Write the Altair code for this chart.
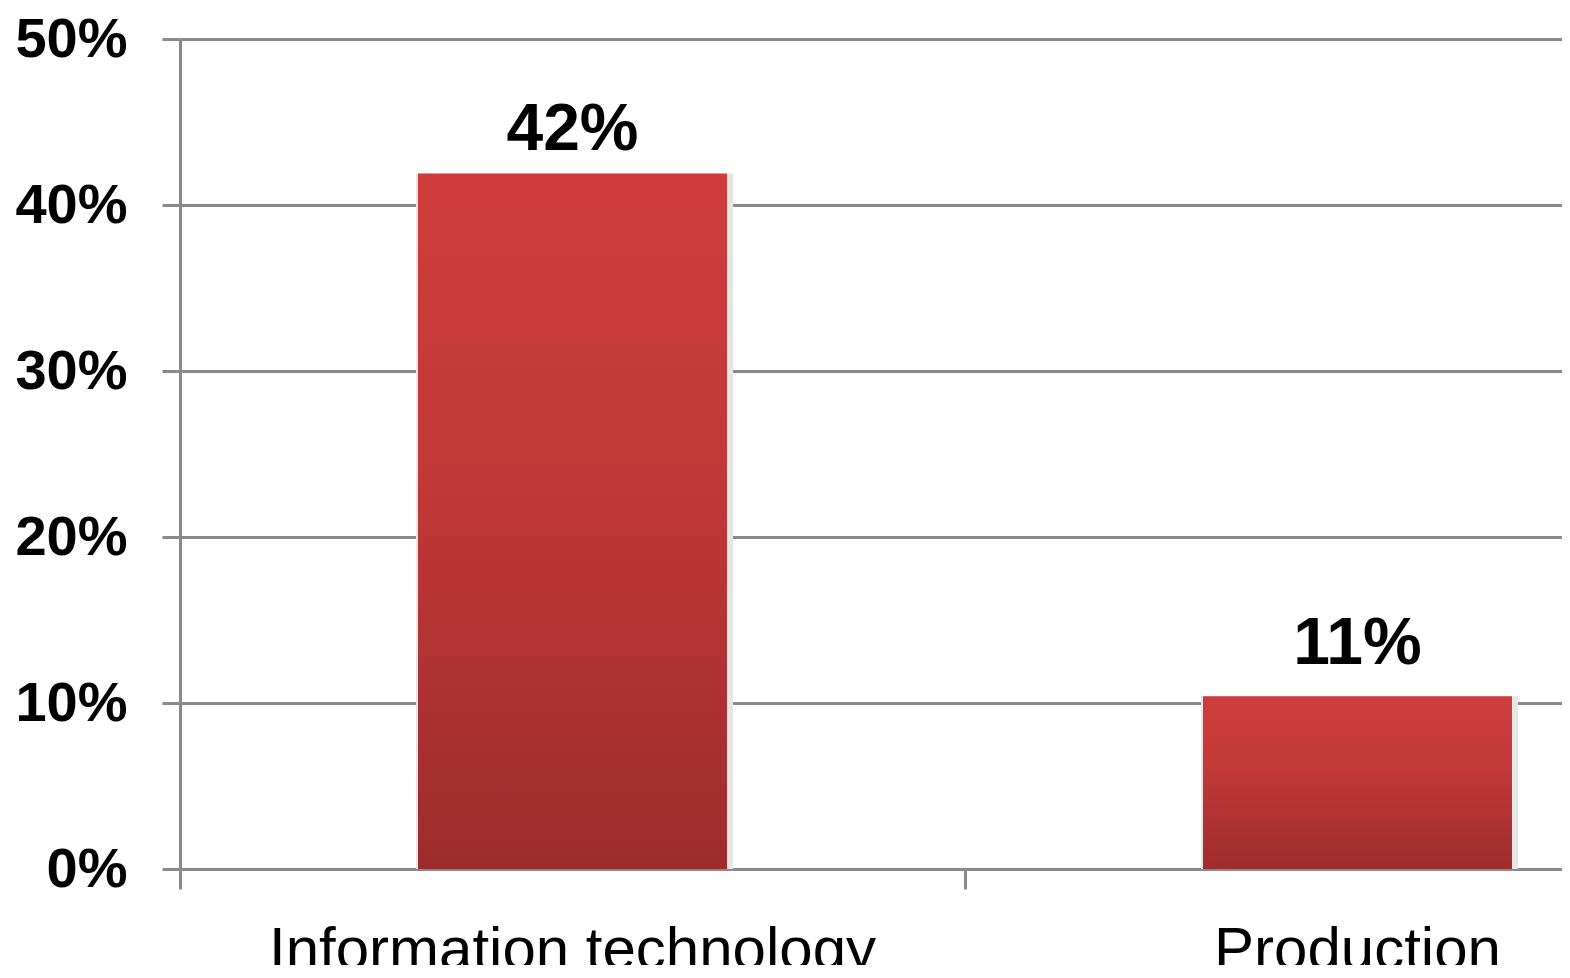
import altair as alt
import pandas as pd

categories = ["Information technology", "Production"]
values = [41.9, 10.4]
labels = ["42%", "11%"]
label_values = [42, 11]
y_ticks = [0, 10, 20, 30, 40, 50]

df = pd.DataFrame({
    "category": categories,
    "value": values,
    "label": labels,
    "label_value": label_values,
})

grey = "#8A8A8A"
font = "Liberation Sans"

x_scale = alt.Scale(domain=categories, range=[0, 1570], paddingInner=0, paddingOuter=0)

# axis that draws only the domain line and the ticks at the category boundaries
x_tick_axis = alt.Axis(
    orient="bottom",
    bandPosition=0,
    labels=False,
    tickSize=20,
    tickWidth=3,
    tickColor=grey,
    domainColor=grey,
    domainWidth=3,
    grid=False,
)

# axis that draws only the category names, centred under the bars
x_label_axis = alt.Axis(
    orient="bottom",
    domain=False,
    ticks=False,
    grid=False,
    labelAngle=0,
    labelFont=font,
    labelFontSize=60,
    labelColor="black",
    labelPadding=52,
    labelLimit=2000,
    labelFlush=False,
    labelOverlap=False,
)

y_scale = alt.Scale(domain=[0, 50], nice=False, zero=True)

y_enc = alt.Y(
    "value:Q",
    scale=y_scale,
    title=None,
    axis=alt.Axis(
        values=y_ticks,
        labelExpr="datum.value + '%'",
        labelFont=font,
        labelFontSize=56,
        labelFontWeight="bold",
        labelColor="black",
        labelPadding=35,
        tickSize=18,
        tickWidth=3,
        tickColor=grey,
        domainColor=grey,
        domainWidth=3,
        gridColor=grey,
        gridWidth=3,
    ),
)

shadow = alt.Chart(df).mark_bar(
    width=alt.RelativeBandSize(317 / 785),
    xOffset=2,
    color="#E6E6E6",
).encode(
    x=alt.X("category:N", sort=categories, scale=x_scale, title=None, axis=x_tick_axis),
    y=y_enc,
)

bars = alt.Chart(df).mark_bar(
    width=alt.RelativeBandSize(309 / 785),
    color=alt.Gradient(
        gradient="linear",
        stops=[
            alt.GradientStop(color="#CE3D3B", offset=0),
            alt.GradientStop(color="#C23938", offset=0.4),
            alt.GradientStop(color="#9E2C2D", offset=1),
        ],
        x1=0, x2=0, y1=0, y2=1,
    ),
).encode(
    x=alt.X("category:N", sort=categories, scale=x_scale, title=None, axis=x_label_axis),
    y=alt.Y("value:Q", scale=y_scale),
)

text = alt.Chart(df).mark_text(
    font=font,
    fontSize=66,
    fontWeight="bold",
    color="black",
    align="center",
    baseline="alphabetic",
    dy=-22,
).encode(
    x=alt.X("category:N", sort=categories, scale=x_scale, axis=None),
    y=alt.Y("label_value:Q", scale=y_scale),
    text="label:N",
)

chart = alt.layer(shadow, bars, text).resolve_axis(x="independent").properties(
    width=1382,
    height=830,
    autosize=alt.AutoSizeParams(type="none"),
    padding={"left": 172, "top": 31, "right": 0, "bottom": 96},
    background="white",
).configure_view(stroke=None)

chart.save("out.html", embed_options={"renderer": "svg", "actions": False})
